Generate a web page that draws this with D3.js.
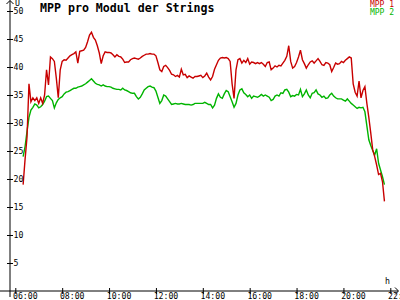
<!DOCTYPE html>
<html><head><meta charset="utf-8">
<script src="https://cdn.jsdelivr.net/npm/d3@7"></script>
<style>
body{margin:0;background:#fff}
svg{display:block}
text{font-family:"DejaVu Sans Mono",monospace}
</style>
</head><body>
<svg id="c" width="400" height="300"></svg>
<script>
const title = "MPP pro Modul der Strings";
const seriesNames = ["MPP 1", "MPP 2"];
const seriesColors = ["#c80000", "#00b400"];
const xTickLabels = ["06:00","08:00","10:00","12:00","14:00","16:00","18:00","20:00","22:00"];
const yTicks = [5,10,15,20,25,30,35,40,45,50];
const yUnit = "U";
const xUnit = "h";

const times = [
"06:20","06:25","06:30","06:35","06:40","06:45","06:50","06:55",
"07:00","07:05","07:10","07:15","07:20","07:25","07:30","07:35","07:40","07:45","07:50","07:55",
"08:00","08:05","08:10","08:15","08:20","08:25","08:30","08:35","08:40","08:45","08:50","08:55",
"09:00","09:05","09:10","09:15","09:20","09:25","09:30","09:35","09:40","09:45","09:50","09:55",
"10:00","10:05","10:10","10:15","10:20","10:25","10:30","10:35","10:40","10:45","10:50","10:55",
"11:00","11:05","11:10","11:15","11:20","11:25","11:30","11:35","11:40","11:45","11:50","11:55",
"12:00","12:05","12:10","12:15","12:20","12:25","12:30","12:35","12:40","12:45","12:50","12:55",
"13:00","13:05","13:10","13:15","13:20","13:25","13:30","13:35","13:40","13:45","13:50","13:55",
"14:00","14:05","14:10","14:15","14:20","14:25","14:30","14:35","14:40","14:45","14:50","14:55",
"15:00","15:05","15:10","15:15","15:20","15:25","15:30","15:35","15:40","15:45","15:50","15:55",
"16:00","16:05","16:10","16:15","16:20","16:25","16:30","16:35","16:40","16:45","16:50","16:55",
"17:00","17:05","17:10","17:15","17:20","17:25","17:30","17:35","17:40","17:45","17:50","17:55",
"18:00","18:05","18:10","18:15","18:20","18:25","18:30","18:35","18:40","18:45","18:50","18:55",
"19:00","19:05","19:10","19:15","19:20","19:25","19:30","19:35","19:40","19:45","19:50","19:55",
"20:00","20:05","20:10","20:15","20:20","20:25","20:30","20:35","20:40","20:45","20:50","20:55",
"21:00","21:05","21:10","21:15","21:20","21:25","21:30","21:35","21:40","21:45"
];

const mpp1 = [
19.0,23.5,27.5,37.0,33.8,34.5,34.0,34.5,
33.5,34.5,33.5,35.0,39.5,36.8,41.8,41.5,41.0,38.0,34.5,39.5,
41.0,41.3,41.2,41.6,42.0,42.2,42.4,42.7,40.7,42.8,42.9,43.0,
43.5,44.5,45.7,46.2,45.3,44.8,43.8,42.5,40.6,42.0,42.7,42.6,
42.6,42.5,42.2,41.8,42.2,41.9,41.8,41.4,40.8,40.9,40.9,41.3,
41.5,41.6,41.5,41.4,41.6,41.9,42.1,42.3,42.3,42.4,42.3,42.3,
42.0,40.8,39.5,39.2,40.1,40.3,39.9,39.4,38.7,38.6,38.3,38.5,
38.2,39.6,38.6,38.7,38.1,38.4,38.2,38.0,38.3,38.3,38.4,38.5,
38.1,38.4,38.9,38.2,37.7,38.3,39.6,40.4,41.2,41.6,41.7,41.6,
41.7,41.5,41.0,37.0,34.4,39.5,41.3,41.5,40.7,41.2,40.8,41.5,
40.5,40.9,40.8,40.6,40.8,40.6,40.8,40.5,40.1,40.8,40.9,39.5,
39.8,40.2,40.0,40.3,40.2,40.7,41.2,41.9,43.8,41.0,39.8,40.1,
40.8,41.8,43.0,41.3,40.6,39.8,40.4,40.9,41.1,40.7,41.1,41.5,
41.0,40.4,40.3,40.8,40.7,40.4,39.2,39.9,40.7,40.5,40.6,41.0,
40.8,41.2,41.5,41.8,41.6,37.0,35.5,34.8,37.5,34.5,35.8,36.5,
33.5,31.0,28.2,25.2,24.0,22.5,20.8,21.0,19.5,16.0
];

const mpp2 = [
24.0,25.8,28.5,31.0,32.3,32.8,33.4,33.2,
32.7,32.9,33.3,33.9,34.7,34.8,34.4,34.0,32.7,33.6,34.2,34.5,
34.7,35.2,35.5,35.6,35.8,36.0,36.2,36.2,36.4,36.5,36.6,36.8,
37.0,37.3,37.6,37.9,37.5,37.1,36.9,36.8,36.6,36.8,36.6,36.5,
36.5,36.4,36.2,36.1,36.0,36.0,35.9,36.2,35.9,35.8,35.6,35.4,
35.3,35.3,34.7,34.3,34.6,35.2,35.9,36.2,36.5,36.6,36.4,36.3,
35.7,34.6,33.5,34.0,35.0,34.8,34.3,33.8,33.3,33.4,33.5,33.4,
33.4,33.5,33.4,33.3,33.3,33.3,33.2,33.3,33.5,33.5,33.5,33.5,
33.5,33.7,33.5,33.3,33.3,32.7,33.2,34.4,35.2,34.6,34.4,35.2,
35.8,35.6,34.7,33.8,32.8,33.5,35.0,35.9,36.1,35.4,35.1,34.7,
35.0,34.4,34.8,34.7,34.6,34.8,35.1,34.8,35.0,34.8,34.6,34.0,
34.2,34.8,35.0,34.8,35.4,35.3,35.9,36.0,35.5,34.7,34.9,34.8,
35.1,35.0,36.0,34.7,35.2,35.9,35.0,34.5,35.3,35.4,35.9,35.2,
35.0,34.6,34.8,34.4,34.5,35.0,35.3,34.8,34.5,34.3,34.3,34.3,
34.1,33.9,34.3,33.9,33.5,33.2,32.9,32.6,32.8,32.7,32.8,32.0,
29.5,27.0,26.0,25.1,24.3,25.4,22.8,21.6,20.4,19.0
];

const toHours = s => { const [h, m] = s.split(":").map(Number); return h + m / 60; };

const svg = d3.select("#c");
const x = d3.scaleLinear().domain([6, 22]).range([15.3, 390.3]);
const y = d3.scaleLinear().domain([0, 50]).range([291, 11]);

// series lines (green first, red on top)
const line = d3.line().x(d => x(d[0])).y(d => y(d[1]));
[[mpp2, 1], [mpp1, 0]].forEach(([vals, idx]) => {
  const pts = times.map((t, i) => [toHours(t), vals[i]]);
  svg.append("path").attr("d", line(pts))
    .attr("fill", "none").attr("stroke", seriesColors[idx])
    .attr("stroke-width", 1.4).attr("stroke-linejoin", "miter");
});

// x axis
const xAxis = d3.axisBottom(x)
  .tickValues(xTickLabels.map(toHours))
  .tickFormat((d, i) => xTickLabels[i])
  .tickSize(3);
const gx = svg.append("g").attr("transform", "translate(0,291)").call(xAxis);
gx.select(".domain").remove();
gx.selectAll(".tick line").attr("y1", -3).attr("y2", 3).attr("stroke", "#000");
gx.selectAll(".tick text").attr("y", 7.5).attr("dy", 0).attr("dx", -2.8)
  .attr("text-anchor", "start").attr("font-size", 8.2)
  .attr("font-family", '"DejaVu Sans Mono", monospace').attr("fill", "#000");
svg.append("line").attr("x1", 0).attr("x2", 398).attr("y1", 291).attr("y2", 291)
  .attr("stroke", "#000").attr("stroke-width", 1);
svg.append("path").attr("d", "M395,287.5L398.5,291L395,294.5").attr("fill", "none").attr("stroke", "#000");

// y axis
const yAxis = d3.axisLeft(y).tickValues(yTicks).tickFormat(d3.format("d")).tickSize(3);
const gy = svg.append("g").attr("transform", "translate(10,0)").call(yAxis);
gy.select(".domain").remove();
gy.selectAll(".tick line").attr("x1", -3).attr("x2", 3).attr("stroke", "#000");
gy.selectAll(".tick text").attr("x", 3.6).attr("dy", "0.36em")
  .attr("text-anchor", "start").attr("font-size", 8.2)
  .attr("font-family", '"DejaVu Sans Mono", monospace').attr("fill", "#000");
svg.append("line").attr("x1", 10).attr("x2", 10).attr("y1", 0.5).attr("y2", 297)
  .attr("stroke", "#000").attr("stroke-width", 1);
svg.append("path").attr("d", "M6.5,4L10,0.5L13.5,4").attr("fill", "none").attr("stroke", "#000");

// unit labels
svg.append("text").attr("x", 15).attr("y", 5.5).attr("font-size", 8.2).text(yUnit);
svg.append("text").attr("x", 385).attr("y", 284).attr("font-size", 8.2).text(xUnit);

// title
svg.append("text").attr("x", 40).attr("y", 11.5)
  .attr("font-size", 11.6).attr("font-weight", "bold").attr("fill", "#000").text(title);

// legend
seriesNames.forEach((n, i) => {
  svg.append("text").attr("x", 394).attr("y", 7 + i * 8)
    .attr("text-anchor", "end").attr("font-size", 8)
    .attr("fill", seriesColors[i]).text(n);
});
</script>
</body></html>
